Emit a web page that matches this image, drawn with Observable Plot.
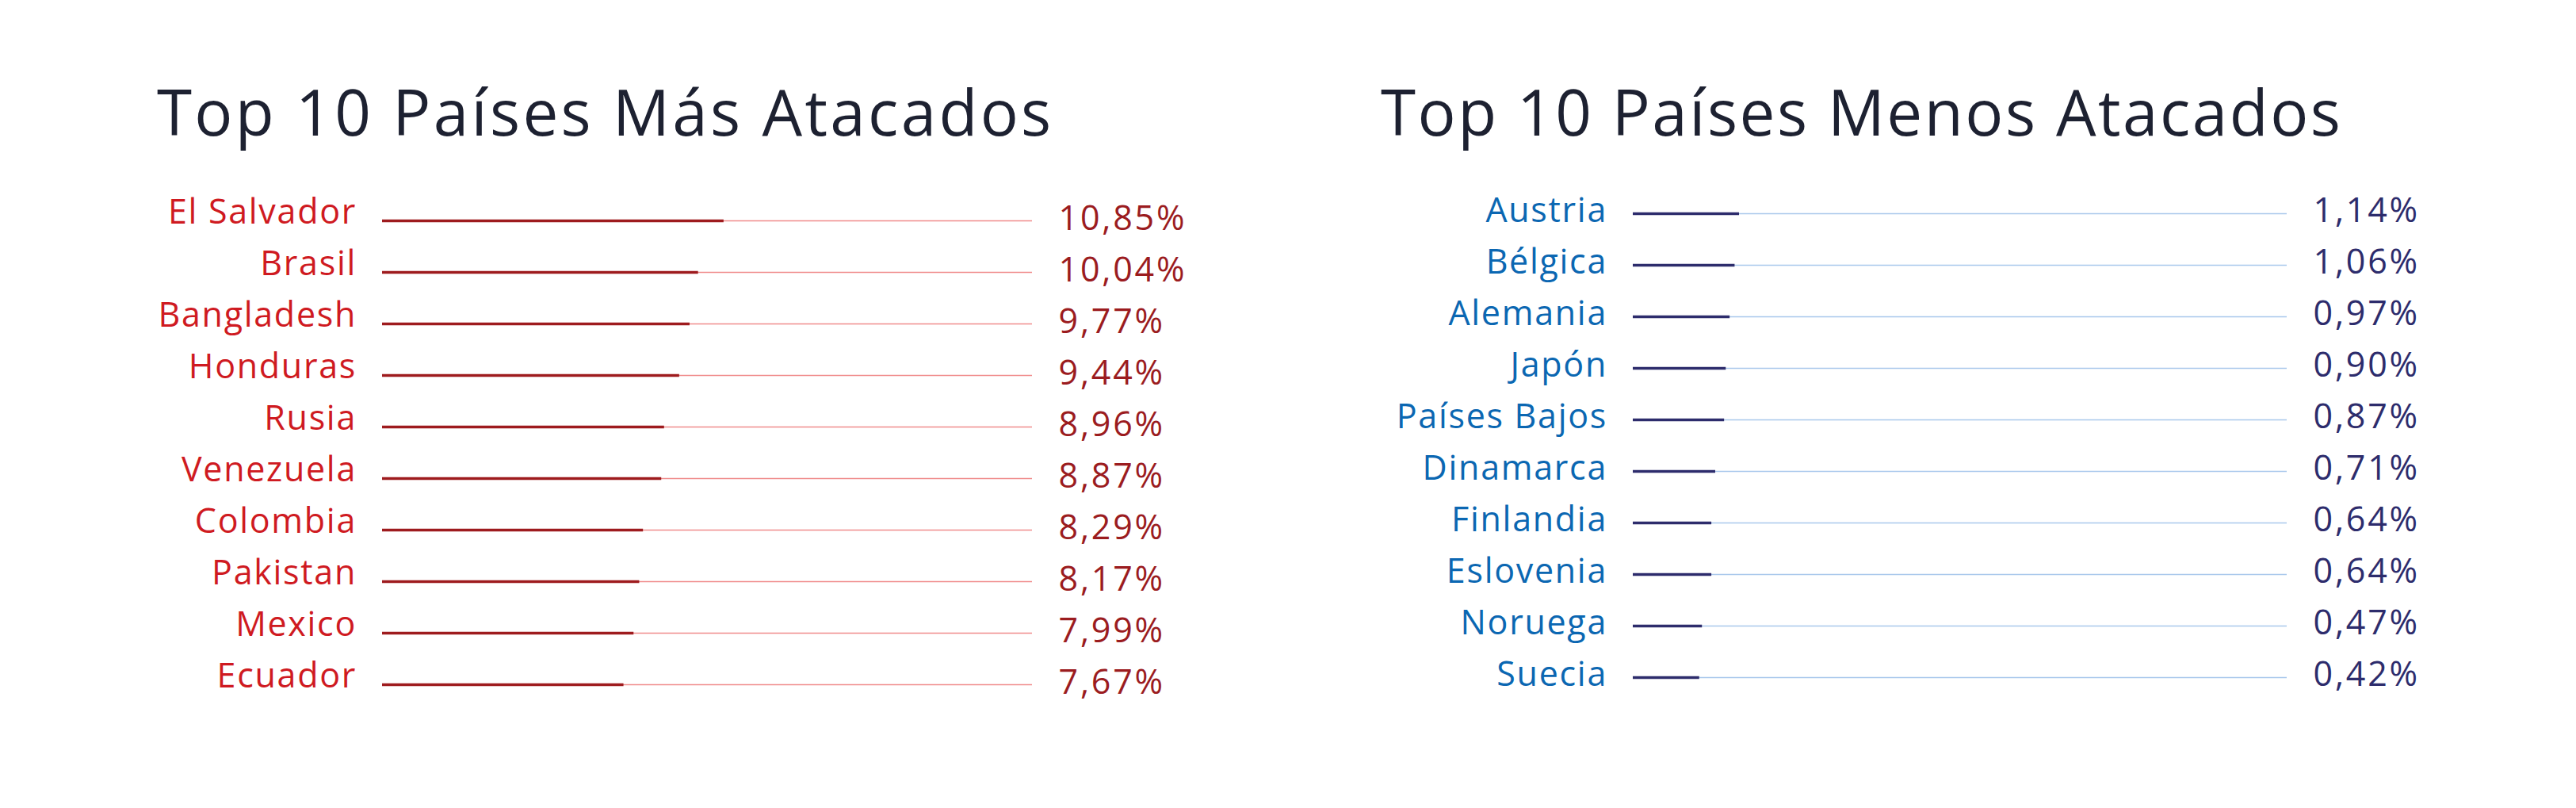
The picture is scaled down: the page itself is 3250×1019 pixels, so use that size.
<!DOCTYPE html>
<html>
<head>
<meta charset="utf-8">
<script src="https://cdn.jsdelivr.net/npm/d3@7"></script>
<script src="https://cdn.jsdelivr.net/npm/@observablehq/plot@0.6"></script>
<style>
  html, body { margin: 0; padding: 0; background: #ffffff; }
  #page { position: relative; width: 3250px; height: 1019px; overflow: hidden; background: #ffffff; font-family: "Open Sans", sans-serif; }
  .title { position: absolute; font-size: 80px; line-height: 80px; color: #1d2131; white-space: nowrap; font-family: "Open Sans", sans-serif; letter-spacing: 3.3px; }
  #t2 { letter-spacing: 2.5px; }
  .chart { position: absolute; top: 200px; }
</style>
</head>
<body>
<div id="page">
  <div class="title" id="t1"></div>
  <div class="title" id="t2"></div>
  <div class="chart" id="c1"></div>
  <div class="chart" id="c2"></div>
</div>
<script>
// ---- Data ----
const titleMost = "Top 10 Países Más Atacados";
const titleLeast = "Top 10 Países Menos Atacados";

const mostCountries = ["El Salvador", "Brasil", "Bangladesh", "Honduras", "Rusia", "Venezuela", "Colombia", "Pakistan", "Mexico", "Ecuador"];
const mostValues = [10.85, 10.04, 9.77, 9.44, 8.96, 8.87, 8.29, 8.17, 7.99, 7.67];

const leastCountries = ["Austria", "Bélgica", "Alemania", "Japón", "Países Bajos", "Dinamarca", "Finlandia", "Eslovenia", "Noruega", "Suecia"];
const leastValues = [1.14, 1.06, 0.97, 0.90, 0.87, 0.71, 0.64, 0.64, 0.47, 0.42];

// scale extents of the tracks (in %)
const mostDomain = [0, 20.65];
const leastDomain = [-0.78, 11.04];

const fmt = v => v.toFixed(2).replace(".", ",") + "%";

const t1 = document.getElementById("t1");
t1.textContent = titleMost; t1.style.left = "198px"; t1.style.top = "100px";
const t2 = document.getElementById("t2");
t2.textContent = titleLeast; t2.style.left = "1742px"; t2.style.top = "100px";

function chart(countries, values, domain, xRange, yRange, colors, dys) {
  const data = countries.map((c, i) => ({country: c, value: values[i]}));
  const svg = Plot.plot({
    width: 1625,
    height: 720,
    marginTop: 0, marginBottom: 0, marginLeft: 0, marginRight: 0,
    style: {background: "transparent", fontFamily: "'Open Sans', sans-serif"},
    x: {domain, range: xRange, axis: null},
    y: {type: "point", domain: countries, range: yRange, padding: 0, axis: null},
    marks: [
      Plot.ruleY(data, {y: "country", x1: domain[0], x2: domain[1], stroke: colors.track, strokeWidth: 1.7}),
      Plot.ruleY(data, {y: "country", x1: domain[0], x2: "value", stroke: colors.bar, strokeWidth: 3.6}),
      Plot.text(data, {y: "country", x: domain[0], text: "country", textAnchor: "end", lineAnchor: "bottom",
        dx: -32.5, dy: dys[0], fill: colors.label, fontSize: 43}),
      Plot.text(data, {y: "country", x: domain[1], text: d => fmt(d.value), textAnchor: "start", lineAnchor: "bottom",
        dx: 33, dy: dys[1], fill: colors.value, fontSize: 43})
    ]
  });
  const groups = svg.querySelectorAll('g[aria-label="text"]');
  if (groups[0]) groups[0].setAttribute("letter-spacing", "1.7");
  if (groups[1]) groups[1].setAttribute("letter-spacing", "2.8");
  return svg;
}

const c1 = document.getElementById("c1");
c1.style.left = "0px";
c1.appendChild(
  chart(mostCountries, mostValues, mostDomain, [482, 1302], [77, 663],
    {track: "#f08c8c", bar: "#9e1b1e", label: "#cf1a21", value: "#9b1c1f"}, [3, 11]));

const c2 = document.getElementById("c2");
c2.style.left = "1625px";
c2.appendChild(
  chart(leastCountries, leastValues, leastDomain, [2060 - 1625, 2885 - 1625], [67, 656.5],
    {track: "#a9c8ec", bar: "#2d2c6c", label: "#0b67b2", value: "#2d2c6c"}, [10, 10]));
</script>
</body>
</html>
